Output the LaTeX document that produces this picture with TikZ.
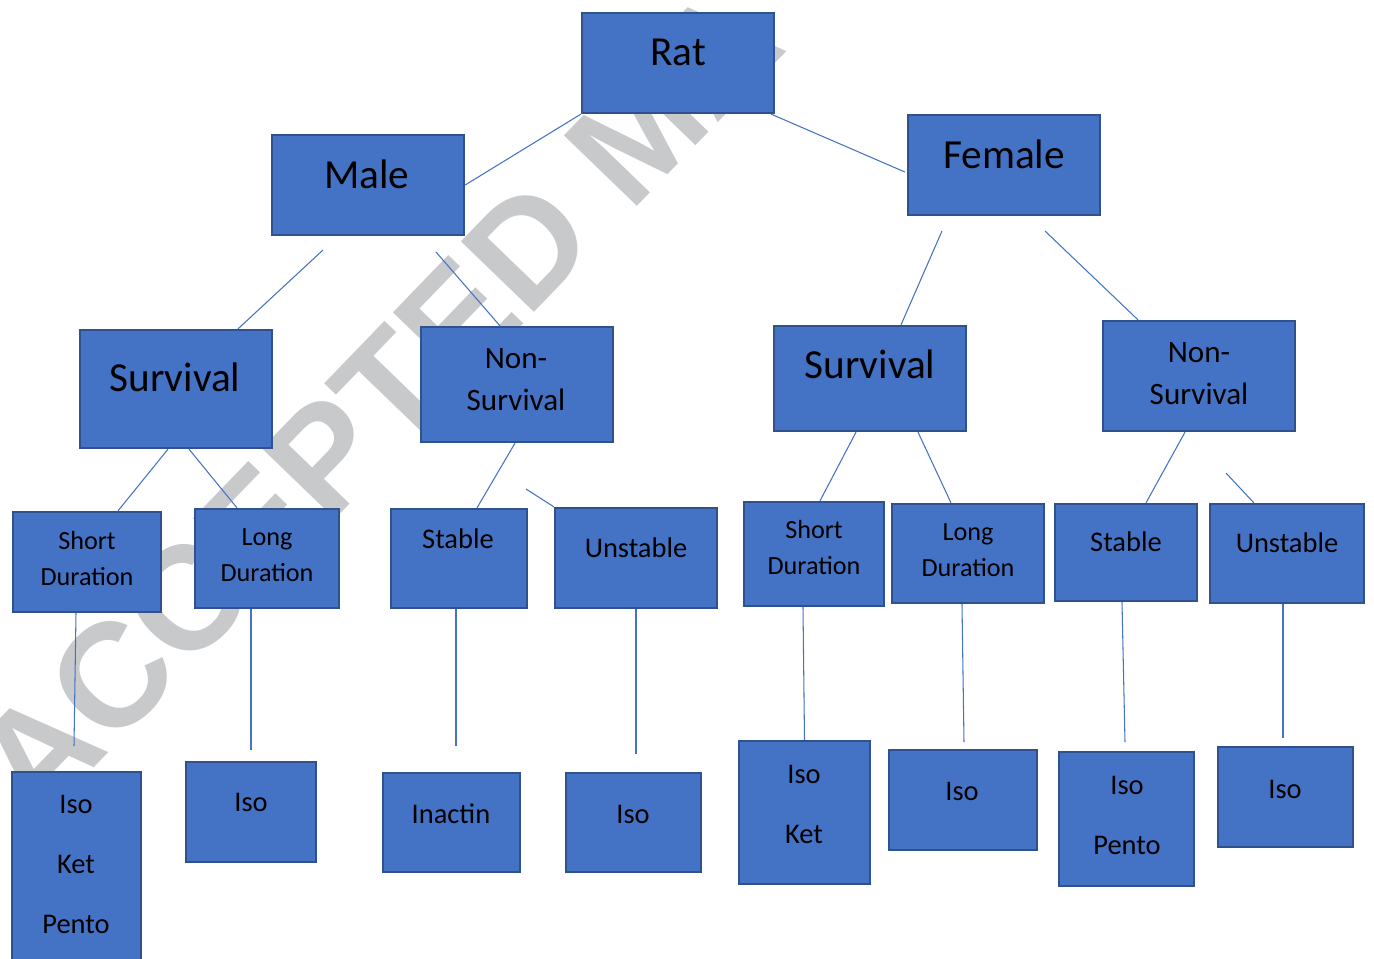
\documentclass[tikz,border=0pt]{standalone}
\usepackage{fontspec}
\setmainfont{Carlito}
\newfontfamily\wmfont{Liberation Sans}
\usetikzlibrary{fit,calc}
\definecolor{boxblue}{HTML}{4472C4}
\definecolor{boxedge}{HTML}{2F528F}
\definecolor{wmgray}{RGB}{200,201,203}
\begin{document}
\begin{tikzpicture}[x=0.02cm,y=-0.02cm,
    box/.style={draw=boxedge,fill=boxblue,line width=1.3pt,inner sep=0pt},
    bigtxt/.style={anchor=base,inner sep=0pt,font=\fontsize{23.5}{28}\selectfont},
    midtxt/.style={anchor=base,inner sep=0pt,align=center,font=\fontsize{17.7}{23.8}\selectfont},
    smalltxt/.style={anchor=base,inner sep=0pt,align=center,font=\fontsize{14.9}{20.4}\selectfont},
    leaftxt/.style={anchor=base,inner sep=0pt,align=center,font=\fontsize{16.2}{34}\selectfont},
    link/.style={draw=boxblue,line width=0.6pt},
    wm/.style={inner sep=0pt,text=wmgray,font=\wmfont\bfseries\fontsize{84}{84}\selectfont}]
        \useasboundingbox (0,0) rectangle (1374,958);
        \node[wm,rotate=46,anchor=base east] (wmark) at (790,48) {ACCEPTED MA};

        \node[box,fit={(582,13) (774,113)}] (rat) {};
        \node[box,fit={(272,135) (464,235)}] (male) {};
        \node[box,fit={(908,115) (1100,215)}] (female) {};
        \node[box,fit={(80,330) (272,448)}] (survl) {};
        \node[box,fit={(421,327) (613,442)}] (nsm) {};
        \node[box,fit={(774,326) (966,431)}] (survf) {};
        \node[box,fit={(1103,321) (1295,431)}] (nsf) {};
        \node[box,fit={(13,512) (161,612)}] (shortl) {};
        \node[box,fit={(195,509) (339,608)}] (longl) {};
        \node[box,fit={(391,509) (527,608)}] (stabm) {};
        \node[box,fit={(555,508) (717,608)}] (unstm) {};
        \node[box,fit={(744,502) (884,606)}] (shortf) {};
        \node[box,fit={(892,504) (1044,603)}] (longf) {};
        \node[box,fit={(1055,504) (1197,601)}] (stabf) {};
        \node[box,fit={(1210,504) (1364,603)}] (unstf) {};
        \node[box,fit={(12,772) (141,980)}] (ikp) {};
        \node[box,fit={(186,762) (316,862)}] (isol) {};
        \node[box,fit={(383,773) (520,872)}] (inact) {};
        \node[box,fit={(566,773) (701,872)}] (isom) {};
        \node[box,fit={(739,741) (870,884)}] (ikf) {};
        \node[box,fit={(889,750) (1037,850)}] (isof) {};
        \node[box,fit={(1059,752) (1194,886)}] (ipf) {};
        \node[box,fit={(1218,747) (1353,847)}] (isou) {};

        \node[bigtxt] (ratt) at (678,65) {Rat};
        \node[bigtxt] (malet) at (367,188) {Male};
        \node[bigtxt] (femalet) at (1004,168) {Female};
        \node[bigtxt] (survlt) at (175,391) {Survival};
        \node[midtxt] (nsmt) at (516,410) {Non-\\Survival};
        \node[bigtxt] (survft) at (870,378) {Survival};
        \node[midtxt] (nsft) at (1199,404) {Non-\\Survival};
        \node[smalltxt] (shortlt) at (87,585) {Short\\Duration};
        \node[smalltxt] (longlt) at (267,581) {Long\\Duration};
        \node[leaftxt] (stabmt) at (458,548) {Stable};
        \node[leaftxt] (unstmt) at (636,557) {Unstable};
        \node[smalltxt] (shortft) at (814,574) {Short\\Duration};
        \node[smalltxt] (longft) at (968,576) {Long\\Duration};
        \node[leaftxt] (stabft) at (1126,551) {Stable};
        \node[leaftxt] (unstft) at (1287,552) {Unstable};
        \node[leaftxt] (ikpt) at (76,933) {Iso\\Ket\\Pento};
        \node[leaftxt] (isolt) at (251,811) {Iso};
        \node[leaftxt] (inactt) at (451,823) {Inactin};
        \node[leaftxt] (isomt) at (633,823) {Iso};
        \node[leaftxt] (ikft) at (804,843) {Iso\\Ket};
        \node[leaftxt] (isoft) at (962,800) {Iso};
        \node[leaftxt] (ipft) at (1127,854) {Iso\\Pento};
        \node[leaftxt] (isout) at (1285,798) {Iso};

        \coordinate (m1) at (323,250);
        \coordinate (m2) at (436,252);
        \coordinate (f1) at (942,231);
        \coordinate (f2) at (1045,231);
        \coordinate (u1) at (526,489);
        \coordinate (u2) at (1226,473);
        \coordinate (e1) at (74,746);
        \coordinate (e2) at (251,750);
        \coordinate (e3) at (456,746);
        \coordinate (e4) at (636,754);
        \coordinate (e5) at (964,742);
        \coordinate (e6) at (1125,742);
        \coordinate (e7) at (1283,738);

        \draw[link] (rat.south west) -- (male.east);
        \draw[link] ($(rat.south east)+(-4,0)$) -- ($(female.west)+(-2,7)$);
        \draw[link] (m1) -- ($(survl.north)+(62,0)$);
        \draw[link] (m2) -- ($(nsm.north)+(-17,0)$);
        \draw[link] (f1) -- ($(survf.north)+(31,0)$);
        \draw[link] (f2) -- ($(nsf.north)+(-61,0)$);
        \draw[link] ($(survl.south)+(-8,0)$) -- ($(shortl.north)+(31,0)$);
        \draw[link] ($(survl.south)+(13,0)$) -- ($(longl.north)+(-30,0)$);
        \draw[link] ($(nsm.south)+(-2,0)$) -- ($(stabm.north)+(18,0)$);
        \draw[link] (u1) -- (unstm.north west);
        \draw[link] ($(survf.south)+(-14,0)$) -- ($(shortf.north)+(6,0)$);
        \draw[link] ($(survf.south)+(48,0)$) -- ($(longf.north)+(-17,0)$);
        \draw[link] ($(nsf.south)+(-14,0)$) -- ($(stabf.north)+(20,0)$);
        \draw[link] (u2) -- ($(unstf.north west)+(45,0)$);
        \draw[link] ($(shortl.south)+(-11,0)$) -- (e1);
        \draw[link] ($(longl.south)+(-16,0)$) -- (e2);
        \draw[link] ($(stabm.south)+(-3,0)$) -- (e3);
        \draw[link] (unstm.south) -- (e4);
        \draw[link] ($(shortf.south)+(-11,0)$) -- (ikf.north);
        \draw[link] ($(longf.south)+(-6,0)$) -- (e5);
        \draw[link] ($(stabf.south)+(-4,0)$) -- (e6);
        \draw[link] ($(unstf.south)+(-4,0)$) -- (e7);
\end{tikzpicture}
\end{document}
